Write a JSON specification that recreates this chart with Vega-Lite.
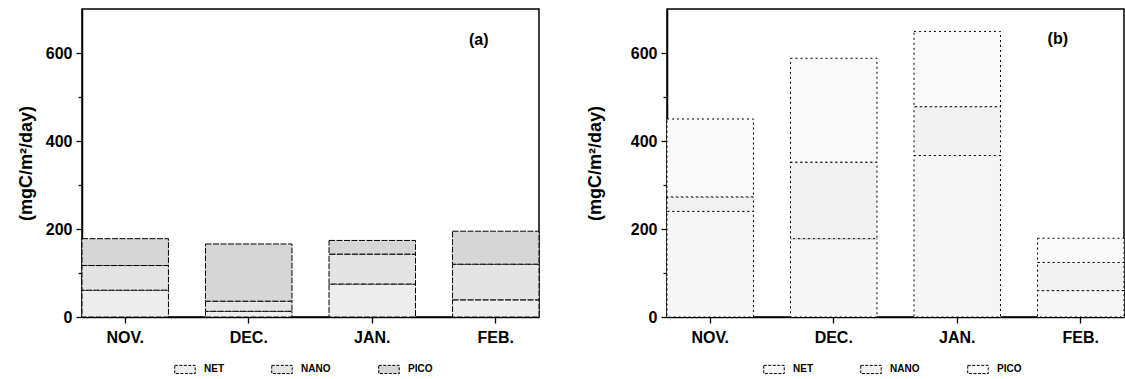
{
  "$schema": "https://vega.github.io/schema/vega-lite/v6.json",
  "padding": {"left": 16, "top": 8, "right": 0, "bottom": 2},
  "background": "white",
  "config": {
    "view": {"stroke": "black", "strokeWidth": 1.5},
    "axis": {
      "labelFont": "Liberation Sans", "labelFontWeight": "bold", "labelFontSize": 16, "labelColor": "black",
      "titleFont": "Liberation Sans", "titleFontWeight": "bold", "titleFontSize": 18, "titleColor": "black",
      "domainColor": "black", "domainWidth": 1.5, "tickColor": "black", "tickWidth": 1.3, "grid": false
    },
    "legend": {
      "orient": "none", "direction": "horizontal", "title": null, "legendY": 349,
      "labelFont": "Liberation Sans", "labelFontWeight": "bold", "labelFontSize": 10, "labelColor": "black",
      "symbolType": "M-1,-0.4H1V0.4H-1Z", "symbolSize": 420, "symbolStrokeColor": "black",
      "symbolStrokeWidth": 1, "symbolDash": [3, 1.5], "columnPadding": 45, "labelOffset": 8
    }
  },
  "datasets": {
    "a": [
      {"month": "NOV.", "size": "NET", "k": 1, "value": 61},
      {"month": "NOV.", "size": "NANO", "k": 2, "value": 56},
      {"month": "NOV.", "size": "PICO", "k": 3, "value": 61},
      {"month": "DEC.", "size": "NET", "k": 1, "value": 13},
      {"month": "DEC.", "size": "NANO", "k": 2, "value": 23},
      {"month": "DEC.", "size": "PICO", "k": 3, "value": 130},
      {"month": "JAN.", "size": "NET", "k": 1, "value": 75},
      {"month": "JAN.", "size": "NANO", "k": 2, "value": 68},
      {"month": "JAN.", "size": "PICO", "k": 3, "value": 31},
      {"month": "FEB.", "size": "NET", "k": 1, "value": 39},
      {"month": "FEB.", "size": "NANO", "k": 2, "value": 81},
      {"month": "FEB.", "size": "PICO", "k": 3, "value": 75}
    ],
    "b": [
      {"month": "NOV.", "size": "NET", "k": 1, "value": 240},
      {"month": "NOV.", "size": "NANO", "k": 2, "value": 33},
      {"month": "NOV.", "size": "PICO", "k": 3, "value": 177},
      {"month": "DEC.", "size": "NET", "k": 1, "value": 178},
      {"month": "DEC.", "size": "NANO", "k": 2, "value": 174},
      {"month": "DEC.", "size": "PICO", "k": 3, "value": 236},
      {"month": "JAN.", "size": "NET", "k": 1, "value": 367},
      {"month": "JAN.", "size": "NANO", "k": 2, "value": 111},
      {"month": "JAN.", "size": "PICO", "k": 3, "value": 171},
      {"month": "FEB.", "size": "NET", "k": 1, "value": 60},
      {"month": "FEB.", "size": "NANO", "k": 2, "value": 64},
      {"month": "FEB.", "size": "PICO", "k": 3, "value": 55}
    ]
  },
  "spacing": 44,
  "resolve": {"scale": {"color": "independent"}, "legend": {"color": "independent"}},
  "hconcat": [
    {
      "width": 457, "height": 308,
      "layer": [
        {
          "data": {"name": "a"},
          "mark": {"type": "bar", "stroke": "black", "strokeWidth": 1, "strokeDash": [6, 1.5]},
          "encoding": {
            "x": {"field": "month", "type": "nominal", "sort": ["NOV.", "DEC.", "JAN.", "FEB."],
                  "scale": {"paddingInner": 0.3, "paddingOuter": 0},
                  "axis": {"title": null, "labelAngle": 0, "labelPadding": 6, "tickSize": 6}},
            "y": {"field": "value", "type": "quantitative", "stack": "zero", "scale": {"domain": [0, 700], "nice": false},
                  "axis": {"title": "(mgC/m²/day)", "values": [0, 100, 200, 300, 400, 500, 600],
                           "labelExpr": "datum.value % 200 == 0 ? datum.label : ''",
                           "tickSize": {"condition": {"test": "datum.value % 200 == 0", "value": 6}, "value": 4},
                           "labelPadding": 4, "titlePadding": 10}},
            "color": {"field": "size", "type": "nominal",
                      "scale": {"domain": ["NET", "NANO", "PICO"], "range": ["#ededed", "#e4e4e4", "#d6d6d6"]},
                      "legend": {"legendX": 92}},
            "order": {"field": "k", "type": "quantitative"}
          }
        },
        {
          "data": {"values": [{"month": "FEB.", "value": 630, "t": "(a)"}]},
          "mark": {"type": "text", "font": "Liberation Sans", "fontWeight": "bold", "fontSize": 16, "dx": -17, "color": "black"},
          "encoding": {
            "x": {"field": "month", "type": "nominal", "sort": ["NOV.", "DEC.", "JAN.", "FEB."]},
            "y": {"field": "value", "type": "quantitative"},
            "text": {"field": "t"}
          }
        }
      ]
    },
    {
      "width": 457, "height": 308,
      "layer": [
        {
          "data": {"name": "b"},
          "mark": {"type": "bar", "stroke": "black", "strokeWidth": 1, "strokeDash": [2, 3]},
          "encoding": {
            "x": {"field": "month", "type": "nominal", "sort": ["NOV.", "DEC.", "JAN.", "FEB."],
                  "scale": {"paddingInner": 0.3, "paddingOuter": 0},
                  "axis": {"title": null, "labelAngle": 0, "labelPadding": 6, "tickSize": 6}},
            "y": {"field": "value", "type": "quantitative", "stack": "zero", "scale": {"domain": [0, 700], "nice": false},
                  "axis": {"title": "(mgC/m²/day)", "values": [0, 100, 200, 300, 400, 500, 600],
                           "labelExpr": "datum.value % 200 == 0 ? datum.label : ''",
                           "tickSize": {"condition": {"test": "datum.value % 200 == 0", "value": 6}, "value": 4},
                           "labelPadding": 4, "titlePadding": 26}},
            "color": {"field": "size", "type": "nominal",
                      "scale": {"domain": ["NET", "NANO", "PICO"], "range": ["#f6f6f6", "#f1f1f1", "#f9f9f9"]},
                      "legend": {"legendX": 96}},
            "order": {"field": "k", "type": "quantitative"}
          }
        },
        {
          "data": {"values": [{"month": "FEB.", "value": 632, "t": "(b)"}]},
          "mark": {"type": "text", "font": "Liberation Sans", "fontWeight": "bold", "fontSize": 16, "dx": -23, "color": "black"},
          "encoding": {
            "x": {"field": "month", "type": "nominal", "sort": ["NOV.", "DEC.", "JAN.", "FEB."]},
            "y": {"field": "value", "type": "quantitative"},
            "text": {"field": "t"}
          }
        }
      ]
    }
  ]
}
